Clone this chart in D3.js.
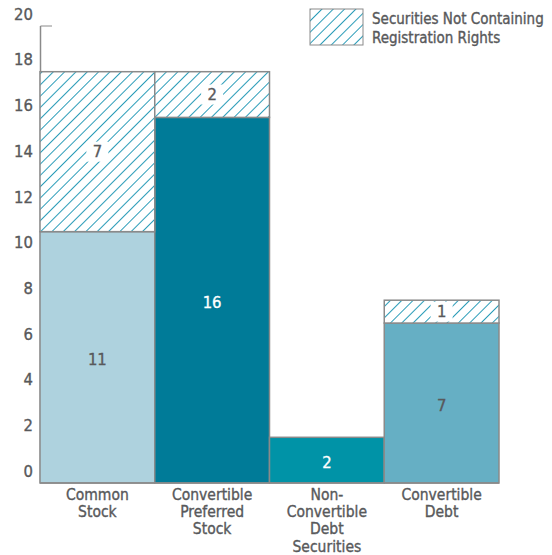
<!DOCTYPE html>
<html>
<head>
<meta charset="utf-8">
<script src="https://cdn.jsdelivr.net/npm/d3@7"></script>
<style>
  body { margin: 0; background: #fff; }
  text { font-family: 'DejaVu Sans Condensed', 'Liberation Sans Narrow', sans-serif; fill: #58595b; stroke: #58595b; stroke-width: 0.35px; }
  text.light { fill: #fff; stroke: #fff; }
</style>
</head>
<body>
<div id="chart"></div>
<script>
var categories = ["Common Stock", "Convertible Preferred Stock", "Non-Convertible Debt Securities", "Convertible Debt"];
var catLines = [["Common", "Stock"], ["Convertible", "Preferred", "Stock"], ["Non-", "Convertible", "Debt", "Securities"], ["Convertible", "Debt"]];
var registered = [11, 16, 2, 7];
var notRegistered = [7, 2, 0, 1];
var barColors = ["#aed2de", "#007b98", "#0093a7", "#66afc4"];
var lightLabel = [false, true, true, false];
var yTicks = [0, 2, 4, 6, 8, 10, 12, 14, 16, 18, 20];

var width = 552, height = 555;

var svg = d3.select("#chart").append("svg")
  .attr("width", width)
  .attr("height", height);

// hatch pattern
var defs = svg.append("defs");
var pat = defs.append("pattern")
  .attr("id", "hatch")
  .attr("patternUnits", "userSpaceOnUse")
  .attr("width", 8)
  .attr("height", 8)
  .attr("patternTransform", "rotate(45)");
pat.append("rect").attr("width", 8).attr("height", 8).attr("fill", "#fff");
pat.append("line")
  .attr("x1", 0.5).attr("y1", 0).attr("x2", 0.5).attr("y2", 8)
  .attr("stroke", "#2a9cb8")
  .attr("stroke-width", 1);

var x = d3.scaleBand()
  .domain(categories)
  .range([40, 499])
  .padding(0);

var y = d3.scaleLinear()
  .domain([0, 20])
  .range([483, 26]);

var rows = categories.map(function(c, i) {
  return { cat: c, reg: registered[i], notReg: notRegistered[i], i: i };
});

// axis lines
svg.append("line")
  .attr("x1", 40.5).attr("x2", 40.5)
  .attr("y1", y(20)).attr("y2", y(0))
  .attr("stroke", "#8a8a8a").attr("stroke-width", 1.5);
svg.append("line")
  .attr("x1", 40.5).attr("x2", 52)
  .attr("y1", y(20)).attr("y2", y(20))
  .attr("stroke", "#8a8a8a").attr("stroke-width", 1);

// y tick labels (sit above their value)
svg.append("g").selectAll("text")
  .data(yTicks)
  .enter().append("text")
  .attr("x", 33)
  .attr("y", function(d) { return y(d) - 12; })
  .attr("dy", "0.35em")
  .attr("text-anchor", "end")
  .attr("font-size", 16.5)
  .text(function(d) { return d; });

// registered segments
svg.append("g").selectAll("rect")
  .data(rows)
  .enter().append("rect")
  .attr("x", function(d) { return x(d.cat); })
  .attr("width", x.bandwidth())
  .attr("y", function(d) { return y(d.reg); })
  .attr("height", function(d) { return y(0) - y(d.reg); })
  .attr("fill", function(d) { return barColors[d.i]; })
  .attr("stroke", "#8a8a8a")
  .attr("stroke-width", 1.5);

// not-registered (hatched) segments
var hatched = rows.filter(function(d) { return d.notReg > 0; });
svg.append("g").selectAll("rect")
  .data(hatched)
  .enter().append("rect")
  .attr("x", function(d) { return x(d.cat); })
  .attr("width", x.bandwidth())
  .attr("y", function(d) { return y(d.reg + d.notReg); })
  .attr("height", function(d) { return y(d.reg) - y(d.reg + d.notReg); })
  .attr("fill", "url(#hatch)")
  .attr("stroke", "#8a8a8a")
  .attr("stroke-width", 1.5);

// bottom line
svg.append("line")
  .attr("x1", 40).attr("x2", 499)
  .attr("y1", y(0)).attr("y2", y(0))
  .attr("stroke", "#8a8a8a").attr("stroke-width", 1.5);

// value labels in registered segments
svg.append("g").selectAll("text")
  .data(rows)
  .enter().append("text")
  .attr("class", function(d) { return lightLabel[d.i] ? "light" : null; })
  .attr("x", function(d) { return x(d.cat) + x.bandwidth() / 2; })
  .attr("y", function(d) { return (y(0) + y(d.reg)) / 2 + 2; })
  .attr("dy", "0.35em")
  .attr("text-anchor", "middle")
  .attr("font-size", 16.5)
  .text(function(d) { return d.reg; });

// value labels in hatched segments, with white box
var hl = svg.append("g").selectAll("g")
  .data(hatched)
  .enter().append("g")
  .attr("transform", function(d) {
    var cy = (y(d.reg) + y(d.reg + d.notReg)) / 2;
    return "translate(" + (x(d.cat) + x.bandwidth() / 2) + "," + cy + ")";
  });
hl.append("rect")
  .attr("x", -11).attr("width", 22)
  .attr("y", function(d) { return -Math.min(10, (y(d.reg) - y(d.reg + d.notReg)) / 2 - 1); })
  .attr("height", function(d) { return 2 * Math.min(10, (y(d.reg) - y(d.reg + d.notReg)) / 2 - 1); })
  .attr("fill", "#fff");
hl.append("text")
  .attr("dy", "0.35em")
  .attr("text-anchor", "middle")
  .attr("font-size", 16.5)
  .text(function(d) { return d.notReg; });

// category labels
var cl = svg.append("g").selectAll("text")
  .data(rows)
  .enter().append("text")
  .attr("text-anchor", "middle")
  .attr("font-size", 15.5)
  .attr("transform", function(d) {
    return "translate(" + (x(d.cat) + x.bandwidth() / 2) + ",500)";
  });
cl.selectAll("tspan")
  .data(function(d) { return catLines[d.i]; })
  .enter().append("tspan")
  .attr("x", 0)
  .attr("y", function(d, j) { return j * 17.2; })
  .text(function(d) { return d; });

// legend
var lg = svg.append("g").attr("transform", "translate(310,9)");
lg.append("rect")
  .attr("width", 53).attr("height", 36)
  .attr("fill", "url(#hatch)")
  .attr("stroke", "#8a8a8a")
  .attr("stroke-width", 1);
lg.append("text")
  .attr("x", 62).attr("y", 15)
  .attr("font-size", 15)
  .text("Securities Not Containing");
lg.append("text")
  .attr("x", 62).attr("y", 34)
  .attr("font-size", 15)
  .text("Registration Rights");
</script>
</body>
</html>
